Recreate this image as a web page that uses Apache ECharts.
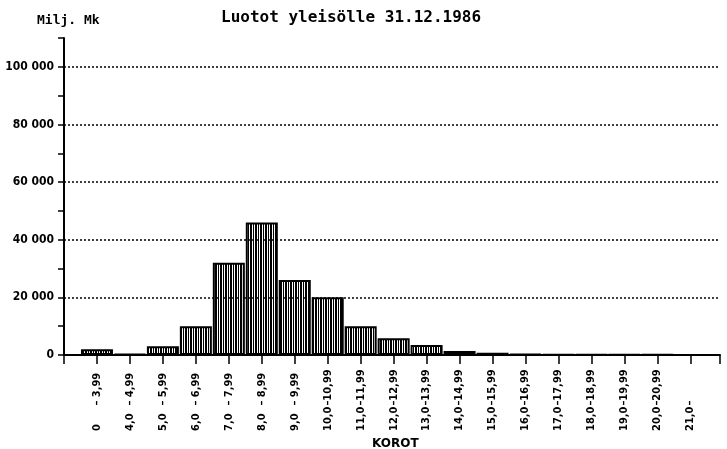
<!DOCTYPE html>
<html><head><meta charset="utf-8">
<script src="https://cdn.jsdelivr.net/npm/echarts@6/dist/echarts.min.js"></script>
<style>html,body{margin:0;padding:0;background:#fff}#c{width:727px;height:449px}</style>
</head><body><div id="c"></div>
<script>
// categories: [lower part, upper part]
const catLow  = ['0','4,0','5,0','6,0','7,0','8,0','9,0','10,0','11,0','12,0','13,0','14,0','15,0','16,0','17,0','18,0','19,0','20,0','21,0'];
const catHigh = ['3,99','4,99','5,99','6,99','7,99','8,99','9,99','10,99','11,99','12,99','13,99','14,99','15,99','16,99','17,99','18,99','19,99','20,99',''];
// Milj. Mk
const values = [2000,300,3000,10000,32000,46000,26000,20000,10000,5800,3500,1400,800,300,200,200,200,100,50];
const yTickValues = [0,20000,40000,60000,80000,100000];
const yTickLabels = ['0','20 000','40 000','60 000','80 000','100 000'];
const titleLeft = 'Milj. Mk';
const titleMain = 'Luotot yleisölle 31.12.1986';
const xName = 'KOROT';

const pc = document.createElement('canvas'); pc.width = 5; pc.height = 4;
const g = pc.getContext('2d');
g.fillStyle = '#fff'; g.fillRect(0,0,5,4);
g.fillStyle = '#000'; g.fillRect(0,0,2,4); g.fillRect(3,0,1,4);

const chart = echarts.init(document.getElementById('c'), null, {renderer:'canvas'});
const narrow = "'DejaVu Sans Condensed','DejaVu Sans',sans-serif";
const cw = 'bold condensed';
const mono = "'DejaVu Sans Mono','Liberation Mono',monospace";
chart.setOption({
  animation:false,
  backgroundColor:'#fff',
  title:[
    {text:titleLeft, left:32, top:9, textStyle:{fontFamily:mono, fontWeight:'bold', fontSize:13, color:'#000'}},
    {text:titleMain, left:216, top:5, textStyle:{fontFamily:mono, fontWeight:'bold', fontSize:16, color:'#000'}},
    {text:xName, left:367, top:433, textStyle:{fontFamily:"'DejaVu Sans',sans-serif", fontWeight:'bold', fontSize:12, color:'#000'}}
  ],
  grid:{left:64, right:7, top:38, bottom:94, containLabel:false, outerBoundsMode:'none'},
  xAxis:{
    type:'value', min:-1, max:18.9, interval:1,
    axisLine:{show:true, onZero:false, lineStyle:{color:'#000', width:2}},
    axisTick:{show:true, length:9, lineStyle:{color:'#000', width:1.5}},
    splitLine:{show:false},
    axisLabel:{
      rotate:90, margin:16, showMinLabel:true, showMaxLabel:true, hideOverlap:false,
      formatter:function(v){
        const i = Math.round(v);
        if (Math.abs(v-i)>1e-6 || i<0 || i>=catLow.length) return '';
        return '{a|'+catLow[i]+'}{b|–}{c|'+catHigh[i]+'}';
      },
      rich:{
        a:{width:24, align:'left', fontFamily:narrow, fontWeight:cw, fontSize:11, color:'#000'},
        b:{width:8, align:'center', fontFamily:narrow, fontWeight:cw, fontSize:11, color:'#000'},
        c:{width:28, align:'left', fontFamily:narrow, fontWeight:cw, fontSize:11, color:'#000'}
      }
    }
  },
  yAxis:{
    type:'value', min:0, max:110000, interval:10000,
    axisLine:{show:true, onZero:false, lineStyle:{color:'#000', width:2}},
    axisTick:{show:true, length:6, lineStyle:{color:'#000', width:1.5}},
    splitLine:{show:false},
    axisLabel:{
      margin:10, fontFamily:narrow, fontWeight:cw, fontSize:12, color:'#000',
      formatter:function(v){ const k = yTickValues.indexOf(v); return k>=0 ? yTickLabels[k] : ''; }
    }
  },
  series:[{
    type:'bar',
    barWidth:32,
    data: values.map((v,i)=>[i,v]),
    itemStyle:{color:{image:pc, repeat:'repeat'}, borderColor:'#000', borderWidth:2},
    markLine:{
      silent:true, symbol:'none',
      label:{show:false},
      lineStyle:{color:'#000', type:[2,2], width:1.5},
      data: yTickValues.filter(v=>v>0).map(v=>({yAxis:v}))
    }
  }]
});
</script></body></html>
